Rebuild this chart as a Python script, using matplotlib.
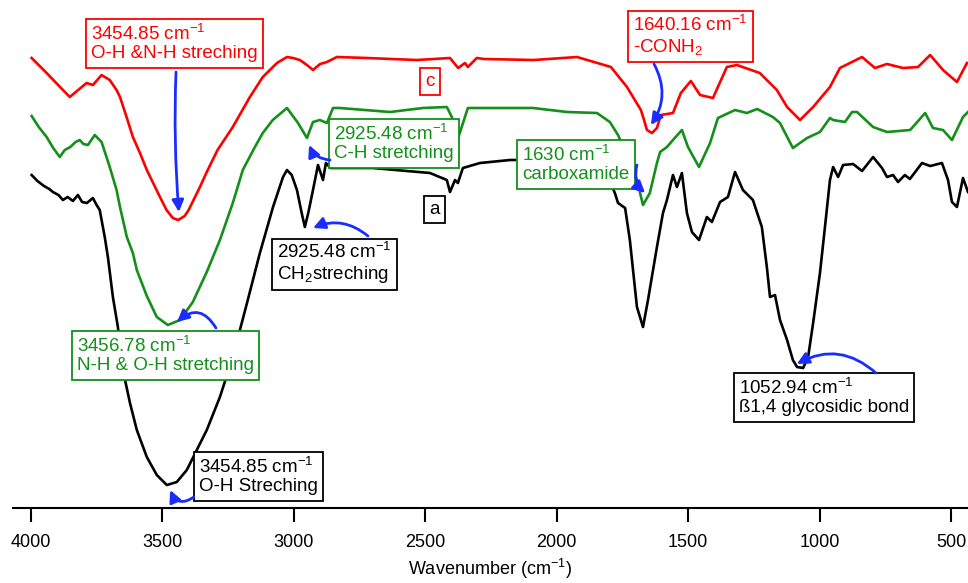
import numpy as np
import matplotlib.pyplot as plt

plt.rcParams['font.family'] = ['Liberation Sans', 'DejaVu Sans']
plt.rcParams['mathtext.fontset'] = 'custom'
plt.rcParams['mathtext.rm'] = 'Liberation Sans'
plt.rcParams['mathtext.it'] = 'Liberation Sans'

# spectrum a (black) - wavenumber (cm-1), offset transmittance (a.u.)
wn_a = [3997, 3975, 3950, 3930, 3916, 3895, 3878, 3860, 3840, 3821, 3805, 3787, 3764, 3750, 3738,
        3719, 3707, 3688, 3669, 3650, 3623, 3597, 3559, 3521, 3483, 3445, 3407, 3369, 3331,
        3281, 3232, 3178, 3129, 3079, 3041, 3026, 3008, 2988, 2970, 2958, 2945, 2927, 2908,
        2889, 2878, 2860, 2700, 2482, 2418, 2406, 2387, 2376, 2357, 2292, 2178,
        2159, 1900, 1820, 1779, 1767, 1740, 1722, 1695, 1672, 1653, 1619, 1596, 1581, 1558,
        1543, 1524, 1505, 1486, 1459, 1429, 1410, 1379, 1349, 1322, 1292, 1254, 1220, 1201,
        1189, 1170, 1151, 1124, 1102, 1086, 1063, 1044, 1025, 999, 980, 961, 949, 930, 911, 873,
        839, 797, 763, 744, 721, 702, 676, 657, 611, 580, 535, 512, 497, 478, 455, 436]
t_a = [333, 327, 322, 319, 316, 313, 308, 311, 307, 313, 306, 305, 310, 303, 298,
       271, 251, 211, 181, 138, 105, 78, 51, 33, 23, 26, 38, 58, 78,
       111, 151, 205, 255, 301, 331, 338, 333, 318, 295, 281, 295, 318, 343,
       328, 345, 340, 340, 335, 328, 316, 328, 325, 340, 345, 348,
       348, 347, 340, 315, 305, 300, 268, 201, 181, 208, 261, 295, 308, 333,
       321, 335, 295, 276, 268, 291, 286, 306, 311, 336, 318, 308, 281, 241,
       211, 213, 188, 168, 148, 141, 140, 151, 185, 235, 281, 328, 341, 331, 343, 344,
       337, 351, 340, 331, 333, 326, 333, 329, 345, 342, 345, 328, 306, 301, 330, 316]

# spectrum b (green)
wn_b = [3997, 3970, 3940, 3915, 3890, 3871, 3850, 3830, 3814, 3800, 3783, 3757, 3731, 3700,
        3674, 3661, 3635, 3612, 3597, 3559, 3521, 3479, 3433, 3384, 3331, 3281, 3232, 3194,
        3150, 3118, 3080, 3026, 2984, 2950, 2927,
        2901, 2874, 2851, 2825, 2634, 2509, 2418, 2399, 2375, 2338, 2178, 2090, 1961, 1847,
        1798, 1767, 1720, 1695, 1672, 1646, 1619, 1607, 1581, 1558, 1524, 1501, 1459, 1417,
        1387, 1322, 1277, 1238, 1178, 1151, 1102, 1048, 999, 961, 949, 904, 877, 858, 797,
        744, 656, 599, 569, 531, 497, 455, 436]
t_b = [392, 381, 371, 360, 351, 358, 361, 366, 368, 364, 363, 373, 366, 341,
       318, 301, 271, 255, 238, 212, 191, 183, 188, 206, 236, 268, 305, 338,
       360, 375, 388, 400, 385, 370, 386,
       388, 385, 400, 400, 396, 400, 401, 391, 370, 400, 400, 400, 396, 395,
       386, 373, 345, 328, 303, 315, 345, 356, 361, 368, 378, 361, 341, 365,
       390, 398, 395, 399, 391, 385, 360, 370, 376, 390, 388, 386, 396, 396, 381,
       376, 378, 395, 380, 378, 368, 391, 396]

# spectrum c (red)
wn_c = [3997, 3940, 3878, 3852, 3788, 3764, 3731, 3700, 3674, 3661, 3636, 3612, 3585, 3559,
        3535, 3509, 3484, 3460, 3440, 3415, 3400, 3357, 3331, 3290, 3232, 3167, 3118, 3064,
        3026, 3003, 2977, 2950, 2927, 2900, 2874, 2836, 2722, 2532, 2406, 2375, 2349, 2338,
        2304, 2277, 2087, 1923, 1794, 1733, 1680, 1668, 1657, 1638, 1619, 1604, 1558, 1528,
        1490, 1455, 1406, 1353, 1315, 1228, 1163, 1124, 1075, 1025, 961, 923, 885, 839, 790,
        744, 683, 626, 580, 531, 478, 440]
t_c = [450, 435, 418, 411, 425, 423, 433, 428, 418, 411, 391, 371, 355, 338,
       325, 311, 298, 290, 288, 292, 298, 321, 336, 358, 381, 411, 431, 445,
       451, 450, 448, 443, 438, 444, 446, 451, 450, 448, 450, 440, 445, 441,
       450, 449, 448, 451, 441, 421, 398, 388, 378, 375, 380, 393, 395, 415,
       427, 413, 410, 441, 443, 435, 418, 401, 388, 401, 421, 440, 445, 451, 440,
       444, 440, 441, 453, 438, 426, 445]

ticks = [4000, 3500, 3000, 2500, 2000, 1500, 1000, 500]

red = '#ff0000'
green = '#14901a'
blue = '#1a2cff'
fs = 13.5

fig = plt.figure(figsize=(9.68, 5.83), dpi=100)
ax = fig.add_axes([0.0134, 0.1286, 0.9866, 0.8714])
ax.plot(wn_a, t_a, color='black', lw=1.9)
ax.plot(wn_b, t_b, color=green, lw=1.9)
ax.plot(wn_c, t_c, color=red, lw=1.9)
ax.set_xlim(4068, 436)
ax.set_ylim(0, 508)

for s in ['top', 'left', 'right']:
    ax.spines[s].set_visible(False)
ax.spines['bottom'].set_linewidth(1.5)
ax.set_yticks([])
ax.set_xticks(ticks)
ax.tick_params(axis='x', direction='out', length=10, width=1.5, labelsize=13, pad=9)
ax.set_xlabel('Wavenumber (cm$^{-1}$)', fontsize=13, labelpad=4)


def label(x, y, txt, col):
    ax.text(x, y, txt, color=col, fontsize=fs, ha='left', va='top', linespacing=1.1,
            bbox=dict(boxstyle='square,pad=0.28', fc='white', ec=col, lw=1.3))


def arrow(x0, y0, x1, y1, rad):
    ax.annotate('', xy=(x1, y1), xytext=(x0, y0),
                arrowprops=dict(arrowstyle='-|>,head_length=0.7,head_width=0.35', color=blue,
                                lw=2, connectionstyle='arc3,rad=%s' % rad, shrinkA=0, shrinkB=0))


label(3771, 484, '3454.85 cm$^{-1}$\nO-H &N-H streching', red)
label(2501, 435, 'c', red)
label(1710, 493, '1640.16 cm$^{-1}$\n-CONH$_2$', red)
label(2847, 384, '2925.48 cm$^{-1}$\nC-H stretching', green)
label(2486, 307, 'a', 'black')
label(3064, 266, '2925.48 cm$^{-1}$\nCH$_2$streching', 'black')
label(2132, 363, '1630 cm$^{-1}$\ncarboxamide', green)
label(3825, 172, '3456.78 cm$^{-1}$\nN-H & O-H stretching', green)
label(3361, 51, '3454.85 cm$^{-1}$\nO-H Streching', 'black')
label(1307, 130, '1052.94 cm$^{-1}$\nß1,4 glycosidic bond', 'black')

arrow(3448, 436, 3437, 296, 0.03)
arrow(1630, 444, 1642, 383, -0.3)
arrow(2862, 348, 2942, 363, -0.3)
arrow(2718, 272, 2927, 280, 0.3)
arrow(1695, 343, 1664, 315, 0.3)
arrow(3296, 180, 3444, 186, 0.6)
arrow(3380, 11, 3470, 18, -0.6)
arrow(786, 135, 1087, 144, 0.35)

fig.savefig('out.png', dpi=100)
